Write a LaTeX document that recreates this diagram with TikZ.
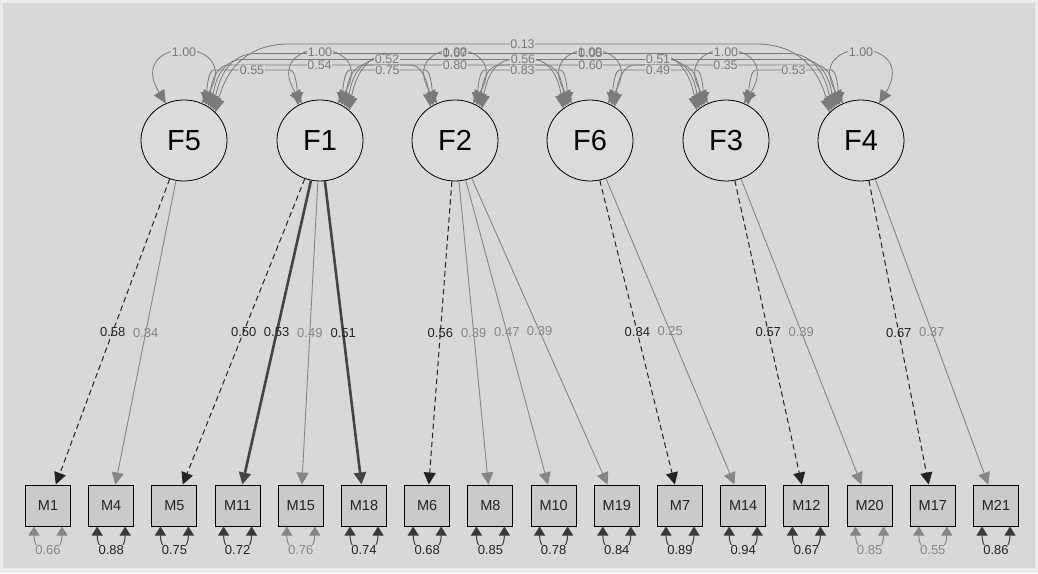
\documentclass[tikz,border=0pt]{standalone}
\usepackage{fontspec}
\setmainfont{Liberation Sans}
\usetikzlibrary{arrows.meta,shapes.geometric,calc}

\definecolor{outerbg}{HTML}{ECECEC}
\definecolor{panel}{HTML}{D8D8D8}
\definecolor{latfill}{HTML}{DBDBDB}
\definecolor{obsfill}{HTML}{CACACA}
\definecolor{inkdark}{HTML}{232323}
\definecolor{inklight}{HTML}{868686}
\definecolor{covink}{HTML}{7A7A7A}
\definecolor{errdark}{HTML}{3A3A3A}

\begin{document}
\begin{tikzpicture}[x=1pt,y=1pt,
  latent/.style={ellipse, draw=black, line width=0.8pt, fill=latfill,
    minimum width=86pt, minimum height=81pt, inner sep=0pt,
    font=\fontsize{29}{30}\selectfont},
  manifest/.style={rectangle, draw=black, line width=1pt, fill=obsfill,
    minimum width=45pt, minimum height=41pt, inner sep=0pt,
    font=\fontsize{14.5}{15}\selectfont, text=inkdark},
  num/.style={font=\fontsize{13}{14}\selectfont, inner sep=0.6pt},
  cnum/.style={font=\fontsize{12.5}{13}\selectfont, inner sep=0.5pt},
  covar/.style={draw=covink, line width=0.8pt,
    {Triangle[length=13pt,width=12pt]}-{Triangle[length=13pt,width=12pt]}},
  cmask/.style={cnum, fill=panel},
  clab/.style={cnum, text=covink},
  fixedload/.style={draw=inkdark, line width=1pt, dash pattern=on 5.5pt off 3.5pt,
    -{Triangle[length=12pt,width=12pt]}},
  freeload/.style={draw=inklight, line width=0.9pt,
    -{Triangle[length=12pt,width=12pt]}},
  heavyload/.style={draw=inkdark!85, line width=2.6pt,
    -{Triangle[length=12pt,width=12pt]}},
  dlab/.style={num, text=inkdark},
  llab/.style={num, text=inklight},
  errd/.style={draw=errdark, line width=1pt,
    {Triangle[length=9pt,width=11pt]}-{Triangle[length=9pt,width=11pt]}},
  errl/.style={draw=inklight, line width=1pt,
    {Triangle[length=9pt,width=11pt]}-{Triangle[length=9pt,width=11pt]}},
  errlabd/.style={num, fill=panel, text=inkdark},
  errlabl/.style={num, fill=panel, text=inklight}
]
\useasboundingbox (0,0) rectangle (1038,573);
\fill[outerbg] (0,0) rectangle (1038,573);
\fill[panel] (3,5) rectangle (1035,570);

% latent factors
\foreach \f/\x in {F5/184,F1/320,F2/455,F6/590,F3/726,F4/861}
  \node[latent] (\f) at (\x,432.5) {\f};

% observed indicators
\foreach \m [count=\k from 0] in {M1,M4,M5,M11,M15,M18,M6,M8,M10,M19,M7,M14,M12,M20,M17,M21}
  \node[manifest] (\m) at ({48+63.2*\k},67.5) {\m};

% factor variances
\foreach \f in {F5,F1,F2,F6,F3,F4}
  \draw[covar] (\f.116) .. controls +(-42,68) and +(42,68) .. (\f.64)
    coordinate[pos=0.5] (v\f);

% factor covariances
\def\covlist{F5/184/F1/320/1/0.55, F5/184/F2/455/2/0.54, F5/184/F6/590/3/0.52,
  F5/184/F3/726/4/0.67, F5/184/F4/861/5/0.13, F1/320/F2/455/1/0.75,
  F1/320/F6/590/2/0.80, F1/320/F3/726/3/0.56, F1/320/F4/861/4/0.05,
  F2/455/F6/590/1/0.83, F2/455/F3/726/2/0.60, F2/455/F4/861/3/0.51,
  F6/590/F3/726/1/0.49, F6/590/F4/861/2/0.35, F3/726/F4/861/1/0.53}
\foreach \A/\Ax/\B/\Bx/\d/\v in \covlist {
  \pgfmathtruncatemacro\angA{62-4*\d}
  \pgfmathtruncatemacro\angB{118+4*\d}
  \pgfmathsetmacro\lev{{503,508,513.5,519.5,529}[\d-1]}
  \pgfmathsetmacro\tdx{{21.8,24.3,26.7,28.9,31.1}[\d-1]}
  \pgfmathsetmacro\rise{\lev-432.5-{34.9,33.4,31.8,30.0,28.0}[\d-1]}
  \pgfmathsetmacro\off{{30,45,58,72,105}[\d-1]}
  \pgfmathsetmacro\h{\off-\tdx}
  \pgfmathsetmacro\xa{\Ax+\off}
  \pgfmathsetmacro\xb{\Bx-\off}
  \draw[covar] (\A.\angA) .. controls +({0.15*\h},{0.65*\rise}) and +({-0.55*\h},0) .. (\xa,\lev)
    -- (\xb,\lev) coordinate[midway] (c\A\B)
    .. controls +({0.55*\h},0) and +({-0.15*\h},{0.65*\rise}) .. (\B.\angB);
}

% label backgrounds, then label texts
\foreach \f in {F5,F1,F2,F6,F3,F4}
  \node[cmask] at (v\f) {\phantom{1.00}};
\foreach \A/\Ax/\B/\Bx/\d/\v in \covlist
  \node[cmask] at (c\A\B) {\phantom{\v}};
\foreach \f in {F5,F1,F2,F6,F3,F4}
  \node[clab] (lv\f) at (v\f) {1.00};
\foreach \A/\Ax/\B/\Bx/\d/\v in \covlist
  \node[clab] (lc\A\B) at (c\A\B) {\v};

% factor loadings
\draw[fixedload] (F5) -- (M1)  node[midway,dlab] {0.58};
\draw[freeload]  (F5) -- (M4)  node[midway,llab] {0.34};
\draw[fixedload] (F1) -- (M5)  node[midway,dlab] {0.50};
\draw[heavyload] (F1) -- (M11) node[midway,dlab] {0.53};
\draw[freeload]  (F1) -- (M15) node[midway,llab] {0.49};
\draw[heavyload] (F1) -- (M18) node[midway,dlab] {0.51};
\draw[fixedload] (F2) -- (M6)  node[midway,dlab] {0.56};
\draw[freeload]  (F2) -- (M8)  node[midway,llab] {0.39};
\draw[freeload]  (F2) -- (M10) node[midway,llab] {0.47};
\draw[freeload]  (F2) -- (M19) node[midway,llab] {0.39};
\draw[fixedload] (F6) -- (M7)  node[midway,dlab] {0.34};
\draw[freeload]  (F6) -- (M14) node[midway,llab] {0.25};
\draw[fixedload] (F3) -- (M12) node[midway,dlab] {0.57};
\draw[freeload]  (F3) -- (M20) node[midway,llab] {0.39};
\draw[fixedload] (F4) -- (M17) node[midway,dlab] {0.67};
\draw[freeload]  (F4) -- (M21) node[midway,llab] {0.37};

% residual variances
\foreach \m/\v/\s in {M1/0.66/l, M4/0.88/d, M5/0.75/d, M11/0.72/d, M15/0.76/l,
    M18/0.74/d, M6/0.68/d, M8/0.85/d, M10/0.78/d, M19/0.84/d, M7/0.89/d,
    M14/0.94/d, M12/0.67/d, M20/0.85/l, M17/0.55/l, M21/0.86/d}
  \draw[err\s] ($(\m.south)+(-14,0)$) .. controls +(0,-32) and +(0,-32) .. ($(\m.south)+(14,0)$)
    node[pos=0.5, errlab\s] {\v};
\end{tikzpicture}
\end{document}
